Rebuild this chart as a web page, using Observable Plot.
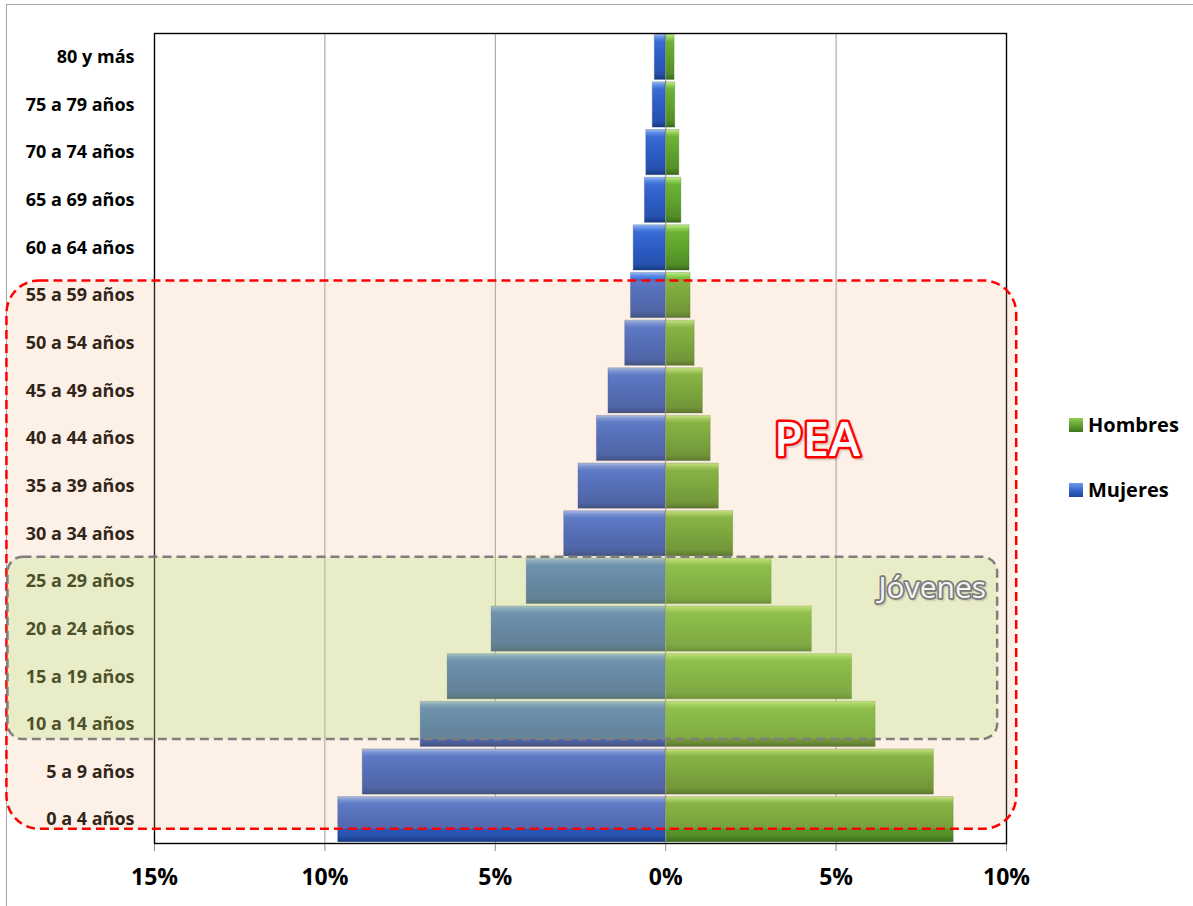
<!DOCTYPE html>
<html>
<head>
<meta charset="utf-8">
<script src="https://cdn.jsdelivr.net/npm/d3@7"></script>
<script src="https://cdn.jsdelivr.net/npm/@observablehq/plot@0.6"></script>
<style>
  body { margin: 0; background: #fff; font-family: "Open Sans", sans-serif; }
  #wrap { position: relative; width: 1193px; height: 906px; overflow: hidden; }
  #border { position: absolute; left: 6px; top: 4px; width: 1400px; height: 1100px;
            border-left: 1px solid #a6a6a6; border-top: 1px solid #a6a6a6; }
  #chart { position: absolute; left: 0; top: 0; }
  .leg { position: absolute; left: 1069px; font-weight: bold; font-size: 20px; line-height: 27px;
         display: flex; align-items: center; color: #000; }
  .sw { width: 14px; height: 14px; margin-right: 5px; display: inline-block; }
</style>
</head>
<body>
<div id="wrap">
  <div id="border"></div>
  <div id="chart"></div>
  <div class="leg" style="top:411px"><span class="sw" style="background:linear-gradient(#8fce55,#5a9a2c 60%,#3f7420)"></span>Hombres</div>
  <div class="leg" style="top:476px"><span class="sw" style="background:linear-gradient(#6f9bea,#2e60c8 60%,#1f4699)"></span>Mujeres</div>
</div>
<script>
// ---- data (bottom to top) ----
const ages = ["0 a 4 años","5 a 9 años","10 a 14 años","15 a 19 años","20 a 24 años","25 a 29 años",
  "30 a 34 años","35 a 39 años","40 a 44 años","45 a 49 años","50 a 54 años","55 a 59 años",
  "60 a 64 años","65 a 69 años","70 a 74 años","75 a 79 años","80 y más"];
const mujeres = [9.61, 8.89, 7.19, 6.40, 5.11, 4.08, 2.98, 2.56, 2.02, 1.68, 1.19, 1.02, 0.94, 0.61, 0.57, 0.38, 0.32];
const hombres = [8.45, 7.87, 6.16, 5.47, 4.29, 3.11, 1.98, 1.56, 1.32, 1.09, 0.85, 0.73, 0.70, 0.46, 0.40, 0.28, 0.26];
const xTicks = [-15, -10, -5, 0, 5, 10];
const gridTicks = [-10, -5, 5];

// annotation boxes
const boxNames = ["PEA", "Jóvenes"];
const boxFrom = ["0 a 4 años", "10 a 14 años"];
const boxTo = ["55 a 59 años", "25 a 29 años"];
const boxXStart = [-19.33, -19.3];
const boxXEnd = [10.3, 9.74];
// annotation labels
const labelTexts = ["PEA", "Jóvenes"];
const labelX = [4.44, 9.4];
const labelAge = ["40 a 44 años", "25 a 29 años"];

// ---- styles ----
const boxStyles = [
  {fill: "rgb(245,180,130)", fillOpacity: 0.2, stroke: "#ff0000", dash: "9,5", rx: 33, insetTop: 8, insetBottom: 13},
  {fill: "rgb(170,230,100)", fillOpacity: 0.23, stroke: "#7f7f7f", dash: "9,5", rx: 15, insetTop: -1.5, insetBottom: 7.5}
];

const rowsM = ages.map((a, i) => ({age: a, value: -mujeres[i]}));
const rowsH = ages.map((a, i) => ({age: a, value: hombres[i]}));
const labels = labelTexts.map((t, i) => ({text: t, x: labelX[i], age: labelAge[i]}));

function boxMark(k) {
  return (index, scales) => {
    const x = scales.x, y = scales.y;
    const bw = typeof y.bandwidth === "function" ? y.bandwidth() : scales.scales.y.bandwidth;
    const st = boxStyles[k];
    const top = y(boxTo[k]) + st.insetTop;
    const bottom = y(boxFrom[k]) + bw - st.insetBottom;
    const left = x(boxXStart[k]), right = x(boxXEnd[k]);
    const g = d3.create("svg:g");
    g.append("rect")
      .attr("x", left).attr("y", top)
      .attr("width", right - left).attr("height", bottom - top)
      .attr("rx", st.rx).attr("ry", st.rx)
      .attr("fill", st.fill).attr("fill-opacity", st.fillOpacity)
      .attr("stroke", st.stroke).attr("stroke-width", 2.5)
      .attr("stroke-dasharray", st.dash);
    return g.node();
  };
}

const chart = Plot.plot({
  width: 1193,
  height: 906,
  marginLeft: 154,
  marginRight: 187,
  marginTop: 33,
  marginBottom: 63,
  style: {fontFamily: "'Open Sans', sans-serif", background: "transparent", overflow: "visible"},
  x: {domain: [-15, 10]},
  y: {domain: ages.slice().reverse(), paddingInner: 0.05, paddingOuter: 0.025, round: false},
  marks: [
    Plot.gridX({ticks: gridTicks, stroke: "#9a9a9a", strokeOpacity: 1, strokeWidth: 1}),
    Plot.axisX({ticks: xTicks, tickFormat: d => Math.abs(d) + "%", tickSize: 8, tickPadding: 17,
      stroke: "#8c8c8c", fill: "#000", fontSize: 23, fontWeight: "bold", label: null}),
    Plot.axisY({tickSize: 0, tickPadding: 20, fontSize: 18, fontWeight: "bold", fill: "#000", label: null}),
    Plot.barX(rowsM, {y: "age", x: "value", fill: "url(#gradM)", stroke: "#1a3a80", strokeOpacity: 0.25, strokeWidth: 1}),
    Plot.barX(rowsH, {y: "age", x: "value", fill: "url(#gradH)", stroke: "#2f5a14", strokeOpacity: 0.25, strokeWidth: 1}),
    Plot.ruleX([0], {stroke: "#8c8c8c", strokeWidth: 1}),
    Plot.frame({stroke: "#000", strokeWidth: 1.4}),
    boxMark(0),
    boxMark(1),
    // PEA label
    Plot.text(labels.slice(0, 1), {x: "x", y: "age", text: "text", dx: 2, dy: 4, fontSize: 47, fontWeight: 600,
      fill: "#000", fillOpacity: 0.18, stroke: "#000", strokeOpacity: 0.12, strokeWidth: 5}),
    Plot.text(labels.slice(0, 1), {x: "x", y: "age", text: "text", dy: 2, fontSize: 47, fontWeight: 600,
      fill: "#ffffff", stroke: "#ff0000", strokeWidth: 5, paintOrder: "stroke"}),
    // Jóvenes label
    Plot.text(labels.slice(1, 2), {x: "x", y: "age", text: "text", dx: 1.5, dy: 8.5, textAnchor: "end", fontSize: 30,
      fill: "#000", fillOpacity: 0.15, stroke: "#000", strokeOpacity: 0.1, strokeWidth: 3.5}),
    Plot.text(labels.slice(1, 2), {x: "x", y: "age", text: "text", dy: 7, textAnchor: "end", fontSize: 30,
      fill: "#f4f4f4", stroke: "#7a7a7a", strokeWidth: 3.5, paintOrder: "stroke"})
  ]
});

// gradient definitions for the bevelled bars
const defs = d3.select(chart).insert("defs", ":first-child");
function grad(id, stops) {
  const g = defs.append("linearGradient").attr("id", id).attr("x1", 0).attr("y1", 0).attr("x2", 0).attr("y2", 1);
  stops.forEach(([o, c]) => g.append("stop").attr("offset", o).attr("stop-color", c));
}
grad("gradM", [[0, "#9bbcf2"], [0.07, "#5f8ee6"], [0.16, "#3a6cd6"], [0.5, "#2c5cc4"], [0.86, "#2752b0"], [0.95, "#1d4493"], [1, "#16387c"]]);
grad("gradH", [[0, "#c2ec8a"], [0.07, "#94d35a"], [0.16, "#6cb436"], [0.5, "#5ea42d"], [0.86, "#528f27"], [0.95, "#437820"], [1, "#356419"]]);

document.getElementById("chart").appendChild(chart);
</script>
</body>
</html>
